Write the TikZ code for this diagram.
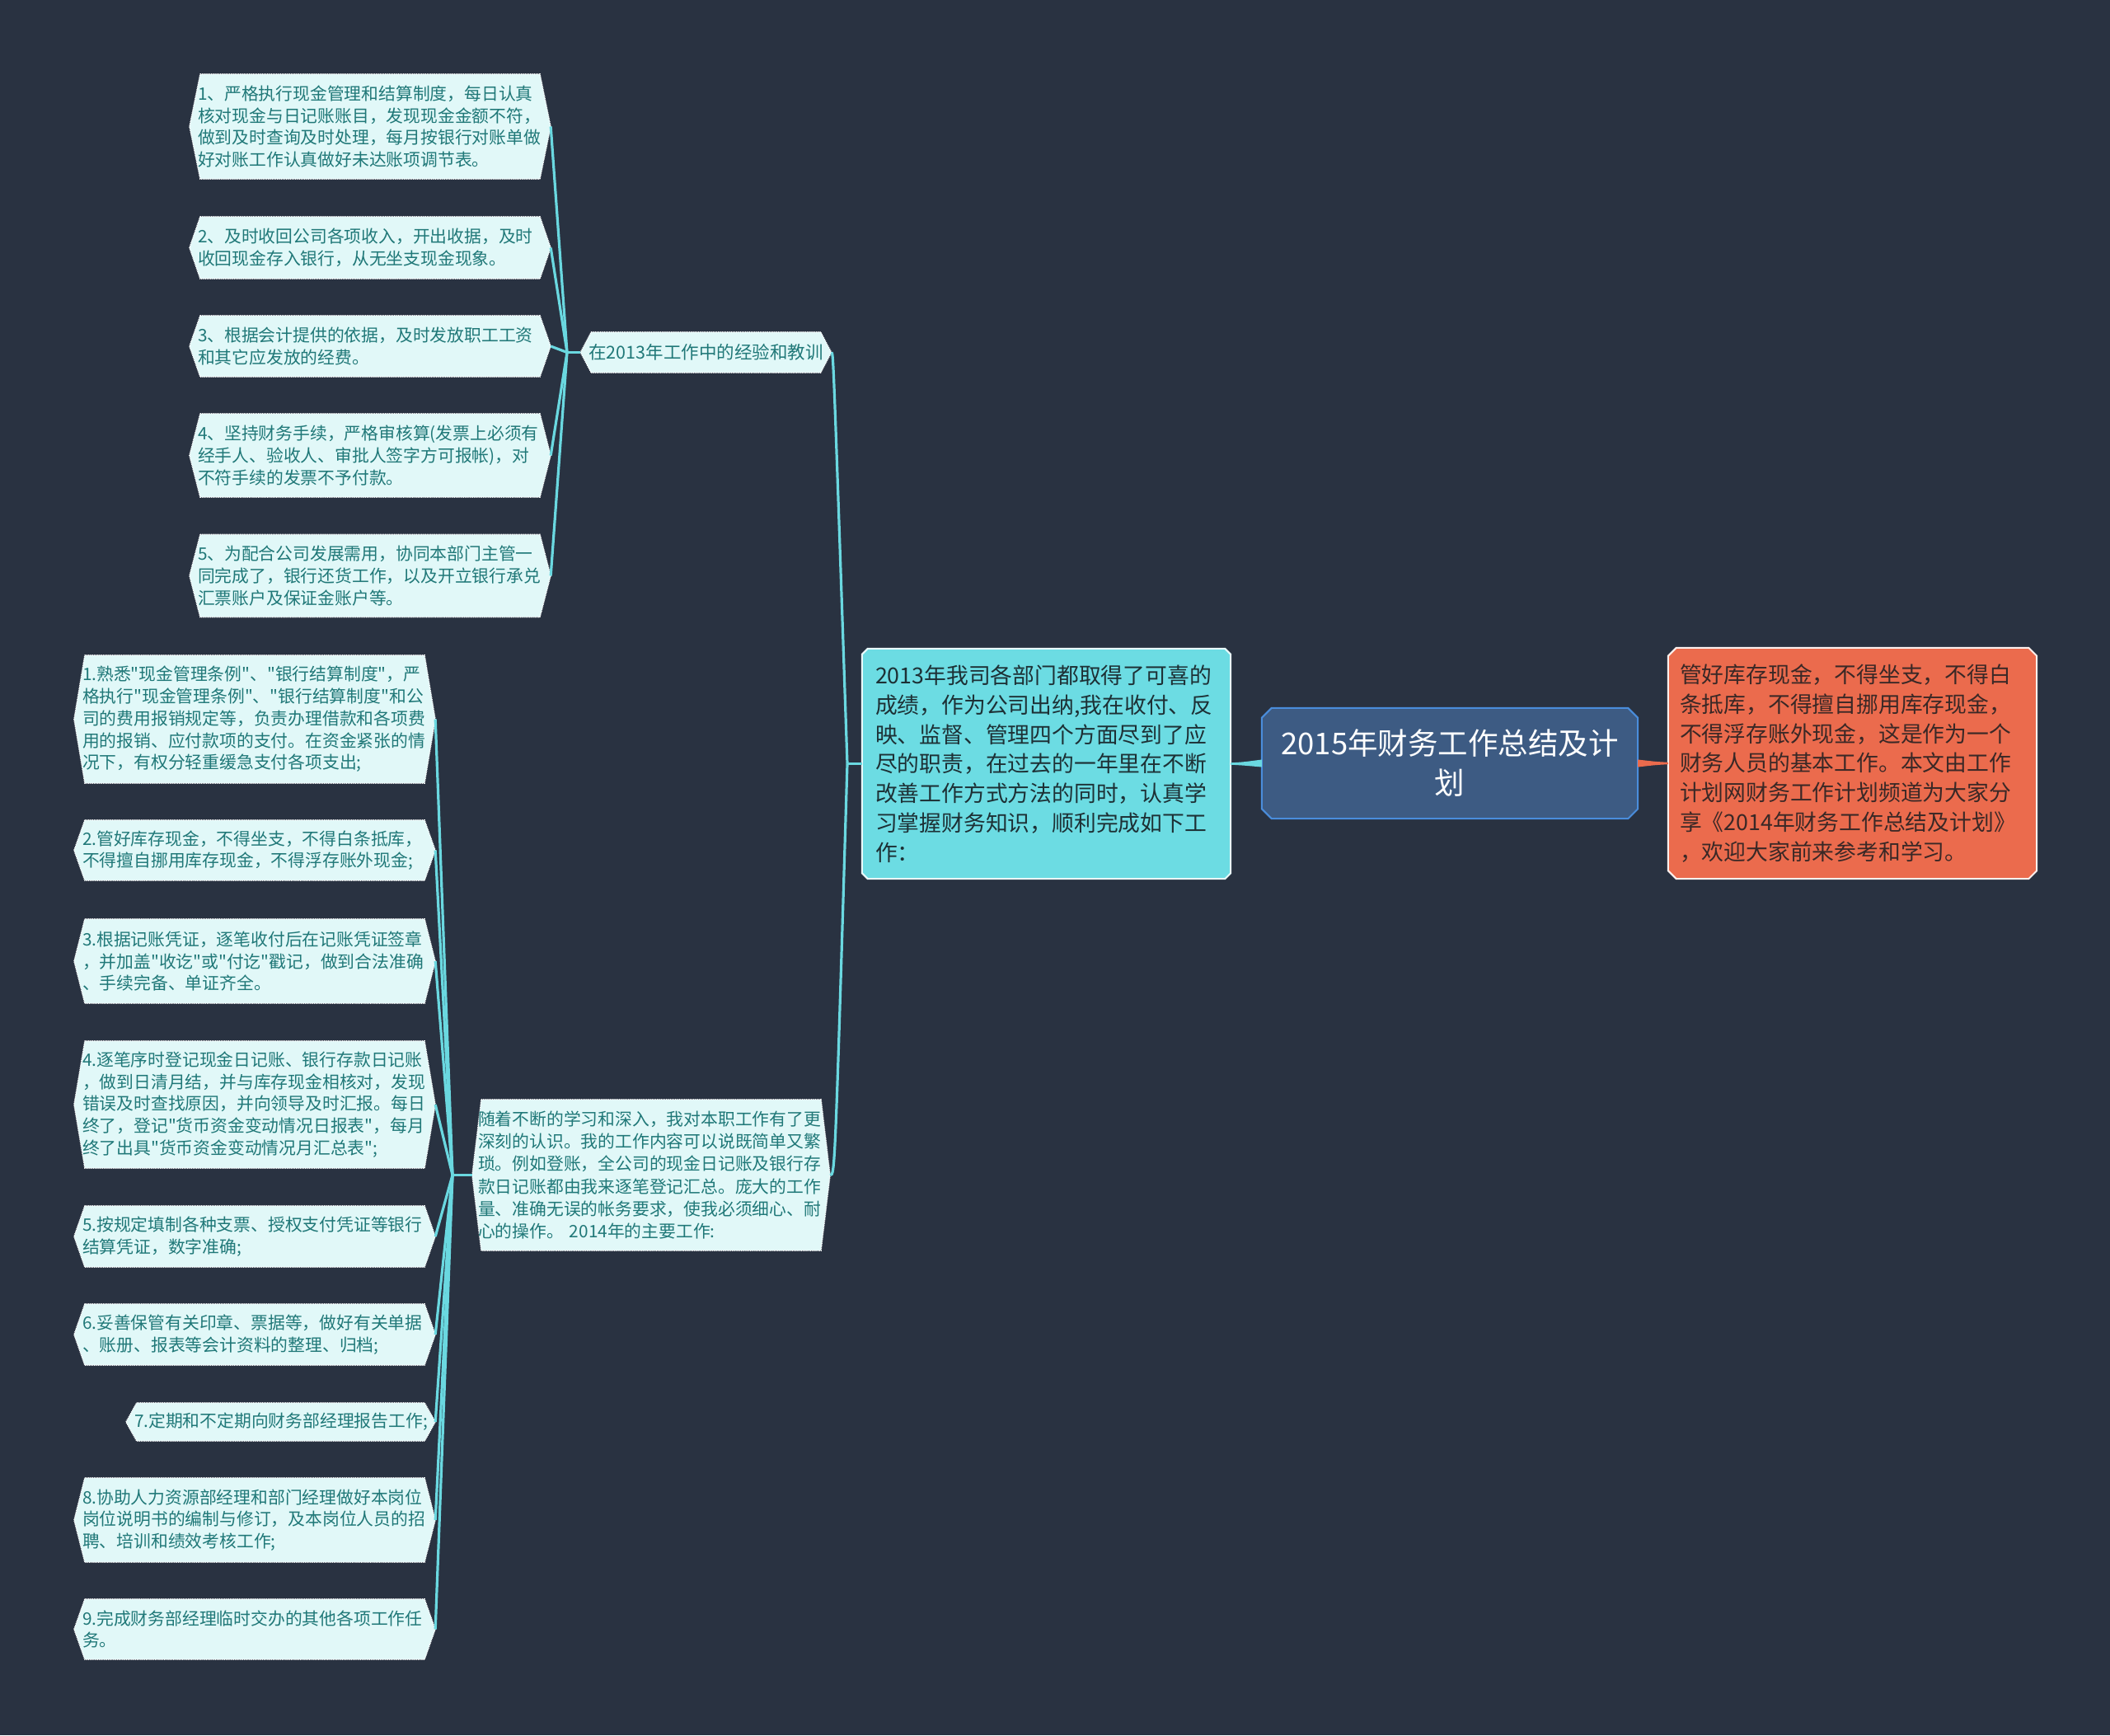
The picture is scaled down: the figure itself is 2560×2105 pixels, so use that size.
\documentclass[tikz,border=0pt]{standalone}
\usepackage{fontspec}
\setmainfont{Noto Sans CJK SC}[Ligatures=TeXOff]
\definecolor{bgc}{HTML}{293241}
\definecolor{conncol}{HTML}{6AD8E0}
\definecolor{leaffill}{HTML}{E1F8F8}
\definecolor{leaftext}{HTML}{207878}
\definecolor{mainfill}{HTML}{6CDCE3}
\definecolor{maintext}{HTML}{1D3035}
\definecolor{rootfill}{HTML}{3D5B83}
\definecolor{rootline}{HTML}{4A8DDB}
\definecolor{orangefill}{HTML}{EB6B4D}
\definecolor{orangetext}{HTML}{3A2826}
\pgfdeclarelayer{bg}
\pgfsetlayers{bg,main}
\newcommand\hexbg[3]{%
\begin{pgfonlayer}{bg}
\path[#3] ([xshift=#2pt]#1.north west) -- ([xshift=-#2pt]#1.north east) -- (#1.east) -- ([xshift=-#2pt]#1.south east) -- ([xshift=#2pt]#1.south west) -- (#1.west) -- cycle;
\end{pgfonlayer}}
\newcommand\octbg[3]{%
\begin{pgfonlayer}{bg}
\path[#3] ([xshift=#2pt]#1.north west) -- ([xshift=-#2pt]#1.north east) -- ([yshift=-#2pt]#1.north east) -- ([yshift=#2pt]#1.south east) -- ([xshift=-#2pt]#1.south east) -- ([xshift=#2pt]#1.south west) -- ([yshift=#2pt]#1.south west) -- ([yshift=-#2pt]#1.north west) -- cycle;
\end{pgfonlayer}}
\tikzset{
  leaf/.style={rectangle, inner xsep=10pt, inner ysep=0pt, align=left, text=leaftext,
    font={\fontsize{20.8pt}{26.7pt}\selectfont}, text width=418pt, minimum width=438pt},
  leafshape/.style={fill=leaffill, draw=white, densely dotted, line width=1.2pt},
  mainshape/.style={fill=mainfill, draw=white!85!mainfill, line width=2pt},
  rootshape/.style={fill=rootfill, draw=rootline, line width=2pt},
  orangeshape/.style={fill=orangefill, draw=white!90!orangefill, line width=2pt},
  conn/.style={draw=conncol, line width=3.2pt},
}
\begin{document}
\begin{tikzpicture}[x=1pt,y=-1pt]
\useasboundingbox (0,0) rectangle (2560,2105);
\begin{pgfonlayer}{bg}
\fill[bgc] (0,0) rectangle (2560,2105);
\end{pgfonlayer}

% root and first-level nodes
\node[rectangle, inner sep=0pt, align=center, text=white, text width=430pt,
  minimum width=456pt, minimum height=134pt, font={\fontsize{36.5pt}{48pt}\selectfont}]
  (root) at (1759,926) {2015年财务工作总结及计\\划};
\octbg{root}{12}{rootshape}

\node[rectangle, inner xsep=16pt, inner ysep=0pt, align=left, text=maintext, text width=415pt,
  minimum width=447pt, minimum height=279pt, font={\fontsize{26.8pt}{35.8pt}\selectfont}]
  (main) at (1269.5,926.5) {2013年我司各部门都取得了可喜的\\成绩，作为公司出纳,我在收付、反\\映、监督、管理四个方面尽到了应\\尽的职责，在过去的一年里在不断\\改善工作方式方法的同时，认真学\\习掌握财务知识，顺利完成如下工\\作：};
\octbg{main}{7}{mainshape}

\node[rectangle, inner xsep=14pt, inner ysep=0pt, align=left, text=orangetext, text width=419pt,
  minimum width=447pt, minimum height=280pt, font={\fontsize{26.8pt}{35.8pt}\selectfont}]
  (orange) at (2247.5,926) {管好库存现金，不得坐支，不得白\\条抵库，不得擅自挪用库存现金，\\不得浮存账外现金，这是作为一个\\财务人员的基本工作。本文由工作\\计划网财务工作计划频道为大家分\\享《2014年财务工作总结及计划》\\，欢迎大家前来参考和学习。};
\octbg{orange}{10}{orangeshape}

% second level
\node[rectangle, inner xsep=10pt, inner ysep=0pt, text=leaftext, minimum width=297pt,
  minimum height=49pt, font={\fontsize{21.5pt}{26pt}\selectfont}]
  (sub1) at (856.5,427.5) {在2013年工作中的经验和教训};
\hexbg{sub1}{13}{leafshape}

\node[leaf, inner xsep=7pt, text width=420pt, minimum width=434pt, minimum height=183pt,
  font={\fontsize{20.8pt}{27.2pt}\selectfont}]
  (sub2) at (790,1425.5) {随着不断的学习和深入，我对本职工作有了更\\深刻的认识。我的工作内容可以说既简单又繁\\琐。例如登账，全公司的现金日记账及银行存\\款日记账都由我来逐笔登记汇总。庞大的工作\\量、准确无误的帐务要求，使我必须细心、耐\\心的操作。 2014年的主要工作:};
\hexbg{sub2}{11}{leafshape}

% top leaves
\node[leaf, minimum height=127pt] (t1) at (449,153.5) {1、严格执行现金管理和结算制度，每日认真\\核对现金与日记账账目，发现现金金额不符，\\做到及时查询及时处理，每月按银行对账单做\\好对账工作认真做好未达账项调节表。};
\hexbg{t1}{13}{leafshape}
\node[leaf, minimum height=75pt] (t2) at (449,300.5) {2、及时收回公司各项收入，开出收据，及时\\收回现金存入银行，从无坐支现金现象。};
\hexbg{t2}{13}{leafshape}
\node[leaf, minimum height=74pt] (t3) at (449,420) {3、根据会计提供的依据，及时发放职工工资\\和其它应发放的经费。};
\hexbg{t3}{13}{leafshape}
\node[leaf, minimum height=101pt] (t4) at (449,552.5) {4、坚持财务手续，严格审核算(发票上必须有\\经手人、验收人、审批人签字方可报帐)，对\\不符手续的发票不予付款。};
\hexbg{t4}{13}{leafshape}
\node[leaf, minimum height=100pt] (t5) at (449,698.5) {5、为配合公司发展需用，协同本部门主管一\\同完成了，银行还货工作，以及开立银行承兑\\汇票账户及保证金账户等。};
\hexbg{t5}{13}{leafshape}

% bottom leaves
\node[leaf, minimum height=155pt] (b1) at (309,872.5) {1.熟悉"现金管理条例"、"银行结算制度"，严\\格执行"现金管理条例"、"银行结算制度"和公\\司的费用报销规定等，负责办理借款和各项费\\用的报销、应付款项的支付。在资金紧张的情\\况下，有权分轻重缓急支付各项支出;};
\hexbg{b1}{13}{leafshape}
\node[leaf, minimum height=73pt] (b2) at (309,1031.5) {2.管好库存现金，不得坐支，不得白条抵库，\\不得擅自挪用库存现金，不得浮存账外现金;};
\hexbg{b2}{13}{leafshape}
\node[leaf, minimum height=102pt] (b3) at (309,1166) {3.根据记账凭证，逐笔收付后在记账凭证签章\\，并加盖"收讫"或"付讫"戳记，做到合法准确\\、手续完备、单证齐全。};
\hexbg{b3}{13}{leafshape}
\node[leaf, minimum height=154pt] (b4) at (309,1340) {4.逐笔序时登记现金日记账、银行存款日记账\\，做到日清月结，并与库存现金相核对，发现\\错误及时查找原因，并向领导及时汇报。每日\\终了，登记"货币资金变动情况日报表"，每月\\终了出具"货币资金变动情况月汇总表";};
\hexbg{b4}{13}{leafshape}
\node[leaf, minimum height=74pt] (b5) at (309,1500) {5.按规定填制各种支票、授权支付凭证等银行\\结算凭证，数字准确;};
\hexbg{b5}{13}{leafshape}
\node[leaf, minimum height=74pt] (b6) at (309,1619) {6.妥善保管有关印章、票据等，做好有关单据\\、账册、报表等会计资料的整理、归档;};
\hexbg{b6}{13}{leafshape}
\node[leaf, text width=355pt, minimum width=375pt, minimum height=46pt] (b7) at (340.5,1725) {7.定期和不定期向财务部经理报告工作;};
\hexbg{b7}{13}{leafshape}
\node[leaf, minimum height=102pt] (b8) at (309,1844) {8.协助人力资源部经理和部门经理做好本岗位\\岗位说明书的编制与修订，及本岗位人员的招\\聘、培训和绩效考核工作;};
\hexbg{b8}{13}{leafshape}
\node[leaf, minimum height=73pt] (b9) at (309,1976.5) {9.完成财务部经理临时交办的其他各项工作任\\务。};
\hexbg{b9}{13}{leafshape}

% junctions
\coordinate (jm) at (1028,926.5);
\coordinate (j1) at (688,427.5);
\coordinate (j2) at (549,1425.5);

% tapered connectors from root
\fill[conncol] ([yshift=1.2pt]main.east) .. controls ([xshift=15pt,yshift=2pt]main.east) .. ([yshift=4.5pt]root.west)
  -- ([yshift=-4.5pt]root.west) .. controls ([xshift=15pt,yshift=-2pt]main.east) .. ([yshift=-1.2pt]main.east) -- cycle;
\fill[orangefill] ([yshift=4.5pt]root.east) .. controls ([xshift=-15pt,yshift=2pt]orange.west) .. ([yshift=1.2pt]orange.west)
  -- ([yshift=-1.2pt]orange.west) .. controls ([xshift=-15pt,yshift=-2pt]orange.west) .. ([yshift=-4.5pt]root.east) -- cycle;

% main to second level
\draw[conn] (main.west) -- (jm);
\draw[conn] (jm) .. controls (1011,427.5) .. (sub1.east);
\draw[conn] (jm) .. controls (1013,1425.5) .. (sub2.east);

% second level to leaves
\draw[conn] (sub1.west) -- (j1);
\foreach \n in {t1,t2,t3,t4,t5} { \draw[conn] (j1) -- (\n.east); }
\draw[conn] (sub2.west) -- (j2);
\foreach \n in {b1,b2,b3,b4,b5,b6,b7,b8,b9} { \draw[conn] (j2) -- (\n.east); }
\end{tikzpicture}
\end{document}
